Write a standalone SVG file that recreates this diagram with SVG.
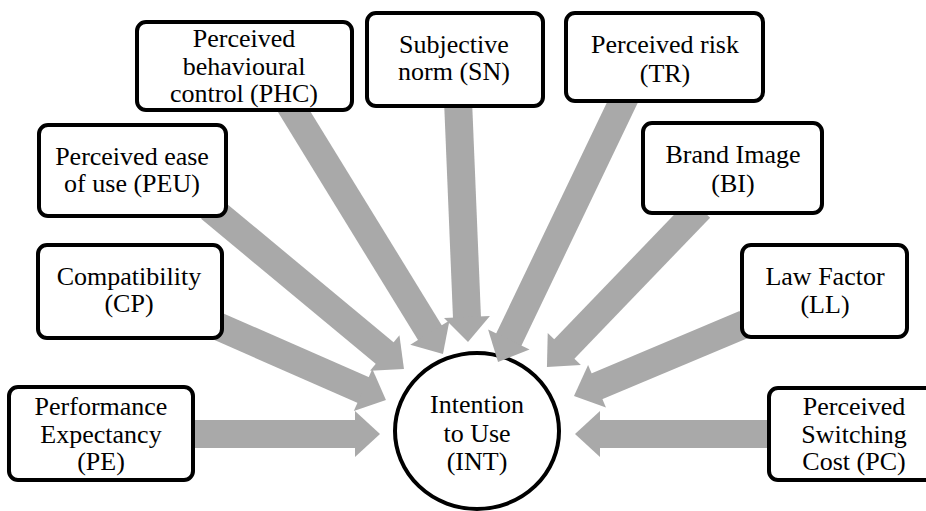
<svg xmlns="http://www.w3.org/2000/svg" width="926" height="511" viewBox="0 0 926 511">
<style>
.box{fill:#fff;stroke:#000;stroke-width:4}
.arr{stroke:#a9a9a9;stroke-width:28;stroke-linecap:butt;fill:none}
text{font-family:'Liberation Serif','Times New Roman',serif;font-size:26px;fill:#000;text-anchor:middle}
</style>
<defs>
<marker id="ah" markerUnits="userSpaceOnUse" viewBox="0 0 25 46" markerWidth="25" markerHeight="46" refX="1" refY="23" orient="auto" overflow="visible">
<path d="M0,0 L25,23 L0,46 Z" fill="#a9a9a9"/>
</marker>
</defs>
<rect width="926" height="511" fill="#fff"/>
<g id="INT">
<ellipse class="box" cx="477" cy="431" rx="82" ry="78"/>
<text x="477" y="413">Intention</text>
<text x="477" y="442">to Use</text>
<text x="477" y="470">(INT)</text>
</g>
<g id="connectors">
<line class="arr" x1="190" y1="434" x2="356" y2="434" marker-end="url(#ah)"/>
<line class="arr" x1="772" y1="434" x2="599" y2="434" marker-end="url(#ah)"/>
<line class="arr" x1="215" y1="325" x2="364" y2="390.4" marker-end="url(#ah)"/>
<line class="arr" x1="210" y1="208" x2="385.5" y2="353.7" marker-end="url(#ah)"/>
<line class="arr" x1="290" y1="105" x2="430.4" y2="333.5" marker-end="url(#ah)"/>
<line class="arr" x1="458" y1="100" x2="467" y2="318" marker-end="url(#ah)"/>
<line class="arr" x1="626" y1="95" x2="508.4" y2="340.4" marker-end="url(#ah)"/>
<line class="arr" x1="700" y1="208" x2="563.6" y2="349.7" marker-end="url(#ah)"/>
<line class="arr" x1="745" y1="324" x2="596.1" y2="386.7" marker-end="url(#ah)"/>
</g>
<g id="PE">
<rect class="box" x="9" y="387" width="184" height="93" rx="9"/>
<text x="101" y="415">Performance</text>
<text x="101" y="443">Expectancy</text>
<text x="101" y="470">(PE)</text>
</g>
<g id="CP">
<rect class="box" x="38" y="245" width="184" height="93" rx="9"/>
<text x="129" y="285">Compatibility</text>
<text x="129" y="312">(CP)</text>
</g>
<g id="PEU">
<rect class="box" x="39" y="125" width="187" height="91" rx="9"/>
<text x="132" y="165">Perceived ease</text>
<text x="132" y="192">of use (PEU)</text>
</g>
<g id="PHC">
<rect class="box" x="137" y="22" width="215" height="88" rx="9"/>
<text x="244" y="47">Perceived</text>
<text x="244" y="75">behavioural</text>
<text x="244" y="102">control (PHC)</text>
</g>
<g id="SN">
<rect class="box" x="367" y="13" width="176" height="93" rx="9"/>
<text x="454" y="53">Subjective</text>
<text x="454" y="80">norm (SN)</text>
</g>
<g id="TR">
<rect class="box" x="566" y="13" width="197" height="88" rx="9"/>
<text x="665" y="53">Perceived risk</text>
<text x="665" y="82">(TR)</text>
</g>
<g id="BI">
<rect class="box" x="643" y="123" width="179" height="90" rx="9"/>
<text x="733" y="163">Brand Image</text>
<text x="733" y="192">(BI)</text>
</g>
<g id="LL">
<rect class="box" x="742" y="245" width="165" height="92" rx="9"/>
<text x="825" y="285">Law Factor</text>
<text x="825" y="313">(LL)</text>
</g>
<g id="PC">
<rect class="box" x="769" y="388" width="171" height="92" rx="9"/>
<text x="854" y="415">Perceived</text>
<text x="854" y="443">Switching</text>
<text x="854" y="470">Cost (PC)</text>
</g>
</svg>
